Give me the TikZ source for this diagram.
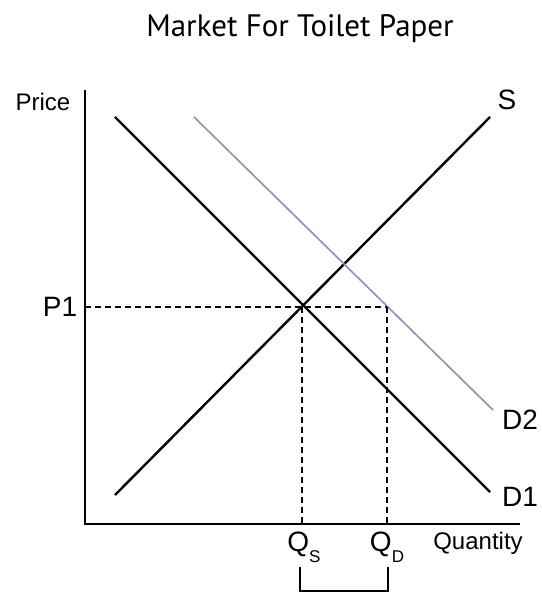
\documentclass[tikz,border=0pt]{standalone}
\usepackage{fontspec}
\setmainfont{Liberation Sans}
\newfontfamily\titlefont{PT Sans}
\definecolor{dtwo}{HTML}{9A90B4}
\begin{document}
\begin{tikzpicture}[x=1pt,y=-1pt,
  axis/.style={line width=2.2pt,black},
  curve/.style={line width=2.4pt,black},
  shifted/.style={line width=1.7pt,dtwo},
  guide/.style={line width=1.7pt,dash pattern=on 6pt off 4pt},
  lbl/.style={inner sep=0pt,font=\fontsize{28}{30}\selectfont},
  small/.style={inner sep=0pt,font=\fontsize{24}{26}\selectfont},
  bracket/.style={line width=2.2pt}]
\useasboundingbox (0,0) rectangle (541,593);
\node[inner sep=0pt,font=\titlefont\fontsize{31}{34}\selectfont] (title) at (300,29) {Market For Toilet Paper};
% axes
\coordinate (O) at (85,524);
\coordinate (ytop) at (85,90);
\coordinate (xend) at (520,524);
\draw[axis] (ytop) -- (O) -- (xend);
% curves
\coordinate (s0) at (115,495);
\coordinate (s1) at (490,117);
\coordinate (d10) at (115,117);
\coordinate (d11) at (490,492);
\coordinate (d20) at (194,117);
\coordinate (d21) at (493,410);
\draw[curve] (s0) -- (s1);
\draw[curve] (d10) -- (d11);
\draw[shifted] (d20) -- (d21);
% equilibrium
\coordinate (E) at (302,307);
\coordinate (F) at (387,307);
\coordinate (py) at (85,307);
\coordinate (qs) at (302,524);
\coordinate (qd) at (387,524);
\draw[guide] (py) -- (F);
\draw[guide] (E) -- (qs);
\draw[guide] (F) -- (qd);
% labels
\node[small,anchor=base] (price) at (43,111) {Price};
\node[lbl] (S) at (507,100) {S};
\node[lbl] (P1) at (60,307) {P1};
\node[lbl] (D2) at (520,420) {D2};
\node[lbl] (D1) at (520,497) {D1};
\node[lbl,anchor=base] (QS) at (304,551) {Q\raisebox{-11pt}{\fontsize{17}{17}\selectfont S}};
\node[lbl,anchor=base] (QD) at (387,551) {Q\raisebox{-11pt}{\fontsize{17}{17}\selectfont D}};
\node[small,anchor=base] (quantity) at (478,549) {Quantity};
% bracket
\coordinate (b1) at (300,567);
\coordinate (b2) at (300,591);
\coordinate (b3) at (388,591);
\coordinate (b4) at (388,567);
\draw[bracket] (b1) -- (b2) -- (b3) -- (b4);
\end{tikzpicture}
\end{document}
